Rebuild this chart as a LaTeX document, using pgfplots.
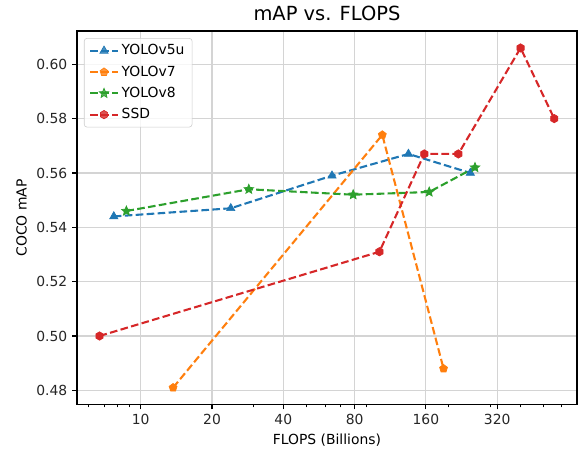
\documentclass[border=0pt]{standalone}
\usepackage{pgfplots}
\pgfplotsset{compat=1.18}
\usepackage{fontspec}
\setmainfont{DejaVu Sans}
\usetikzlibrary{plotmarks}

\definecolor{tabblue}{HTML}{1F77B4}
\definecolor{taborange}{HTML}{FF7F0E}
\definecolor{tabgreen}{HTML}{2CA02C}
\definecolor{tabred}{HTML}{D62728}

% filled hexagon and filled star, like matplotlib's 'h' and '*'
\pgfdeclareplotmark{hexagon*}{%
  \pgfpathmoveto{\pgfpointpolar{90}{\pgfplotmarksize}}%
  \pgfpathlineto{\pgfpointpolar{150}{\pgfplotmarksize}}%
  \pgfpathlineto{\pgfpointpolar{210}{\pgfplotmarksize}}%
  \pgfpathlineto{\pgfpointpolar{270}{\pgfplotmarksize}}%
  \pgfpathlineto{\pgfpointpolar{330}{\pgfplotmarksize}}%
  \pgfpathlineto{\pgfpointpolar{30}{\pgfplotmarksize}}%
  \pgfpathclose\pgfusepathqfillstroke}
\pgfdeclareplotmark{fstar}{%
  \pgfpathmoveto{\pgfpointpolar{90}{\pgfplotmarksize}}%
  \pgfpathlineto{\pgfpointpolar{126}{0.45\pgfplotmarksize}}%
  \pgfpathlineto{\pgfpointpolar{162}{\pgfplotmarksize}}%
  \pgfpathlineto{\pgfpointpolar{198}{0.45\pgfplotmarksize}}%
  \pgfpathlineto{\pgfpointpolar{234}{\pgfplotmarksize}}%
  \pgfpathlineto{\pgfpointpolar{270}{0.45\pgfplotmarksize}}%
  \pgfpathlineto{\pgfpointpolar{306}{\pgfplotmarksize}}%
  \pgfpathlineto{\pgfpointpolar{342}{0.45\pgfplotmarksize}}%
  \pgfpathlineto{\pgfpointpolar{18}{\pgfplotmarksize}}%
  \pgfpathlineto{\pgfpointpolar{54}{0.45\pgfplotmarksize}}%
  \pgfpathclose\pgfusepathqfillstroke}

\tikzset{mpldash/.style={line width=1.5pt, dash pattern=on 5.5pt off 2.4pt}}

\begin{document}
\begin{tikzpicture}
\begin{axis}[
  scale only axis,
  width=360pt, height=269pt,
  xmode=log,
  xmin=5.38, xmax=695,
  ymin=0.47475, ymax=0.61225,
  xtick={10,20,40,80,160,320},
  xticklabels={10,20,40,80,160,320},
  minor xtick={6,7,8,9,30,50,60,70,90,200,300,400,500,600},
  ytick={0.48,0.50,0.52,0.54,0.56,0.58,0.60},
  yticklabel style={/pgf/number format/.cd, fixed, fixed zerofill, precision=2},
  /pgf/number format/assume math mode=true,
  tick label style={font=\fontsize{10pt}{12pt}\selectfont, black!85},
  label style={font=\fontsize{10pt}{12pt}\selectfont},
  title style={font=\fontsize{14pt}{16pt}\selectfont, yshift=-2pt},
  title={mAP vs. FLOPS},
  xlabel={FLOPS (Billions)},
  ylabel={COCO mAP},
  tick align=outside,
  tick pos=left,
  major tick length=3.5pt, minor tick length=2pt,
  every tick/.style={black, line width=0.8pt},
  minor tick style={line width=0.6pt},
  axis line style={line width=0.8pt},
  xmajorgrids, ymajorgrids,
  major grid style={black!17, line width=0.8pt},
  clip=false,
  legend cell align=left,
  legend style={at={(rel axis cs:0.014,0.981)}, anchor=north west,
    font=\fontsize{10pt}{12pt}\selectfont, draw=black!20, rounded corners=2pt,
    fill=white, fill opacity=0.8, text opacity=1,
    row sep=2.4pt, inner xsep=3.5pt, inner ysep=2.5pt},
  legend image code/.code={\draw[mark repeat=2, mark phase=2] plot coordinates {(0pt,0pt) (10pt,0pt) (20pt,0pt)};},
]
\addplot[tabblue, mpldash, mark=triangle*, mark size=3.4pt, mark options={solid, fill=tabblue, line width=0.5pt}]
  coordinates {(7.7,0.544) (24.0,0.547) (64.2,0.559) (135.0,0.567) (246.4,0.560)};
\addlegendentry{YOLOv5u}
\addplot[taborange, mpldash, mark=pentagon*, mark size=3pt, mark options={solid, fill=taborange, line width=0.5pt}]
  coordinates {(13.7,0.481) (104.7,0.574) (189.9,0.488)};
\addlegendentry{YOLOv7}
\addplot[tabgreen, mpldash, mark=fstar, mark size=3.6pt, mark options={solid, fill=tabgreen, line width=0.5pt}]
  coordinates {(8.7,0.546) (28.6,0.554) (78.9,0.552) (165.2,0.553) (257.8,0.562)};
\addlegendentry{YOLOv8}
\addplot[tabred, mpldash, mark=hexagon*, mark size=3pt, mark options={solid, fill=tabred, line width=0.5pt}]
  coordinates {(6.7,0.500) (101.8,0.531) (157.5,0.567) (219.3,0.567) (401.5,0.606) (557,0.580)};
\addlegendentry{SSD}
% page frame: room around the axis as in the reference
\path ([xshift=-55.4pt, yshift=-34.6pt]rel axis cs:0,0) rectangle ([xshift=3.6pt, yshift=22.3pt]rel axis cs:1,1);
\end{axis}
\end{tikzpicture}
\end{document}
